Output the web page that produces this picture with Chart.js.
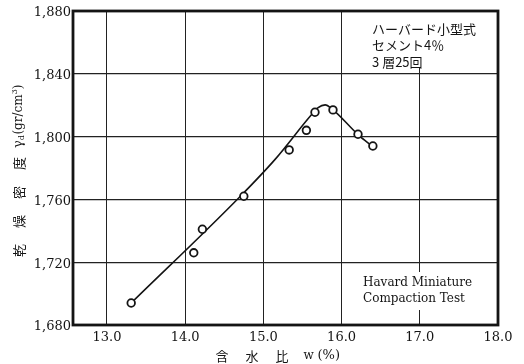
<!DOCTYPE html>
<html>
<head>
<meta charset="utf-8">
<script src="https://cdn.jsdelivr.net/npm/chart.js@4/dist/chart.umd.min.js"></script>
<style>
  html, body { margin: 0; padding: 0; background: #fff; }
  #wrap { width: 524px; height: 364px; }
</style>
</head>
<body>
<div id="wrap"><canvas id="c" width="524" height="364"></canvas></div>
<script>
// Measured compaction points: water content w (%) and dry density γd (gr/cm³)
const moistureContent = [13.31, 14.11, 14.22, 14.75, 15.33, 15.55, 15.66, 15.89, 16.21, 16.40];
const dryDensity      = [1.694, 1.726, 1.741, 1.762, 1.7915, 1.804, 1.8155, 1.817, 1.8015, 1.794];

// Hand-fitted compaction curve through the points
const curveMoisture = [13.31, 14.70, 15.15, 15.62, 15.70, 15.79, 15.88, 16.22, 16.39];
const curveDensity  = [1.694, 1.7617, 1.7855, 1.8142, 1.8185, 1.8202, 1.8175, 1.8008, 1.794];

// Axis ticks
const xTicks = [13, 14, 15, 16, 17, 18];
const yTicks = [1.68, 1.72, 1.76, 1.80, 1.84, 1.88];

// Notes inside the plot
const noteTop = ['ハーバード小型式', 'セメント4％', '3 層25回'];
const noteBottom = ['Havard Miniature', 'Compaction Test'];

const SERIF = '"DejaVu Serif", "Liberation Serif", serif';
const CJK = '"Noto Sans CJK JP", "Noto Sans CJK SC", sans-serif';
const INK = '#141414';

const toPoints = (xs, ys) => xs.map((x, i) => ({ x, y: ys[i] }));

// White note panels, axis titles and the heavy plot frame
const decorations = {
  id: 'decorations',
  beforeDatasetsDraw(chart) {
    const { ctx, chartArea: a, scales } = chart;
    const x16 = scales.x.getPixelForValue(16);
    ctx.save();
    ctx.fillStyle = '#fff';
    ctx.fillRect(x16 + 4, a.top + 1, a.right - x16 - 5, 56);
    ctx.fillRect(x16 + 8, a.bottom - 53, a.right - x16 - 14, 38);

    ctx.fillStyle = INK;
    ctx.textBaseline = 'middle';
    ctx.textAlign = 'left';
    ctx.font = '13px ' + CJK;
    noteTop.forEach((t, i) => ctx.fillText(t, a.right - 126, a.top + 18 + i * 16.5));
    ctx.font = '12px ' + SERIF;
    noteBottom.forEach((t, i) => ctx.fillText(t, a.right - 135, a.bottom - 42 + i * 16));

    // frame
    ctx.strokeStyle = INK;
    ctx.lineWidth = 2.8;
    ctx.strokeRect(a.left, a.top, a.right - a.left, a.bottom - a.top);
    ctx.restore();
  },
  afterDraw(chart) {
    const { ctx, chartArea: a } = chart;
    ctx.save();
    ctx.fillStyle = INK;
    ctx.textBaseline = 'middle';
    ctx.textAlign = 'left';

    // x-axis title: 含 水 比 w (%)
    const cx = (a.left + a.right) / 2;
    const ty = 356;
    ctx.font = '13px ' + CJK;
    ctx.fillText('含', cx - 70, ty);
    ctx.fillText('水', cx - 40, ty);
    ctx.fillText('比', cx - 10, ty);
    ctx.font = '12px ' + SERIF;
    ctx.fillText('w', cx + 18, ty);
    ctx.font = '13px ' + SERIF;
    ctx.fillText('(%)', cx + 32, ty);

    // y-axis title: 乾 燥 密 度 γd(gr/cm³), reading bottom to top
    ctx.translate(19, a.bottom - 68);
    ctx.rotate(-Math.PI / 2);
    ctx.font = '13px ' + CJK;
    ['乾', '燥', '密', '度'].forEach((ch, i) => ctx.fillText(ch, i * 29, 0));
    let px = 109;
    ctx.font = '13px ' + SERIF;
    ctx.fillText('γ', px, 0);
    px += ctx.measureText('γ').width;
    ctx.font = '8px ' + SERIF;
    ctx.fillText('d', px, 3);
    px += ctx.measureText('d').width + 0.5;
    ctx.font = '12px ' + SERIF;
    ctx.fillText('(gr/cm', px, 0);
    px += ctx.measureText('(gr/cm').width;
    ctx.font = '8px ' + SERIF;
    ctx.fillText('3', px, -4);
    px += ctx.measureText('3').width;
    ctx.font = '12px ' + SERIF;
    ctx.fillText(')', px, 0);
    ctx.restore();
  }
};

new Chart(document.getElementById('c'), {
  type: 'scatter',
  data: {
    datasets: [
      {
        label: 'curve',
        type: 'line',
        data: toPoints(curveMoisture, curveDensity),
        borderColor: INK,
        borderWidth: 1.6,
        pointRadius: 0,
        cubicInterpolationMode: 'monotone',
        fill: false,
        order: 2
      },
      {
        label: 'points',
        data: toPoints(moistureContent, dryDensity),
        pointRadius: 3.8,
        pointBackgroundColor: '#fff',
        pointBorderColor: INK,
        pointBorderWidth: 1.8,
        order: 1
      }
    ]
  },
  options: {
    responsive: false,
    animation: false,
    devicePixelRatio: 1,
    layout: { padding: { top: 11, right: 26, bottom: 0, left: 0 } },
    plugins: {
      legend: { display: false },
      tooltip: { enabled: false }
    },
    scales: {
      x: {
        type: 'linear',
        min: 12.566,
        max: 18.0,
        afterBuildTicks: s => { s.ticks = xTicks.map(v => ({ value: v })); },
        afterFit: s => { s.height = 39; },
        ticks: {
          callback: v => Number(v).toFixed(1),
          font: { family: SERIF, size: 13 },
          color: INK,
          padding: 5,
          maxRotation: 0
        },
        grid: { color: '#222', lineWidth: 1, drawTicks: false },
        border: { display: false }
      },
      y: {
        type: 'linear',
        min: 1.68,
        max: 1.88,
        afterBuildTicks: s => { s.ticks = yTicks.map(v => ({ value: v })); },
        afterFit: s => { s.width = 73; },
        ticks: {
          callback: v => Number(v).toFixed(3).replace('.', ','),
          font: { family: SERIF, size: 13 },
          color: INK,
          padding: 2,
          labelOffset: 2
        },
        grid: { color: '#222', lineWidth: 1.3, drawTicks: false },
        border: { display: false }
      }
    }
  },
  plugins: [decorations]
});
</script>
</body>
</html>
